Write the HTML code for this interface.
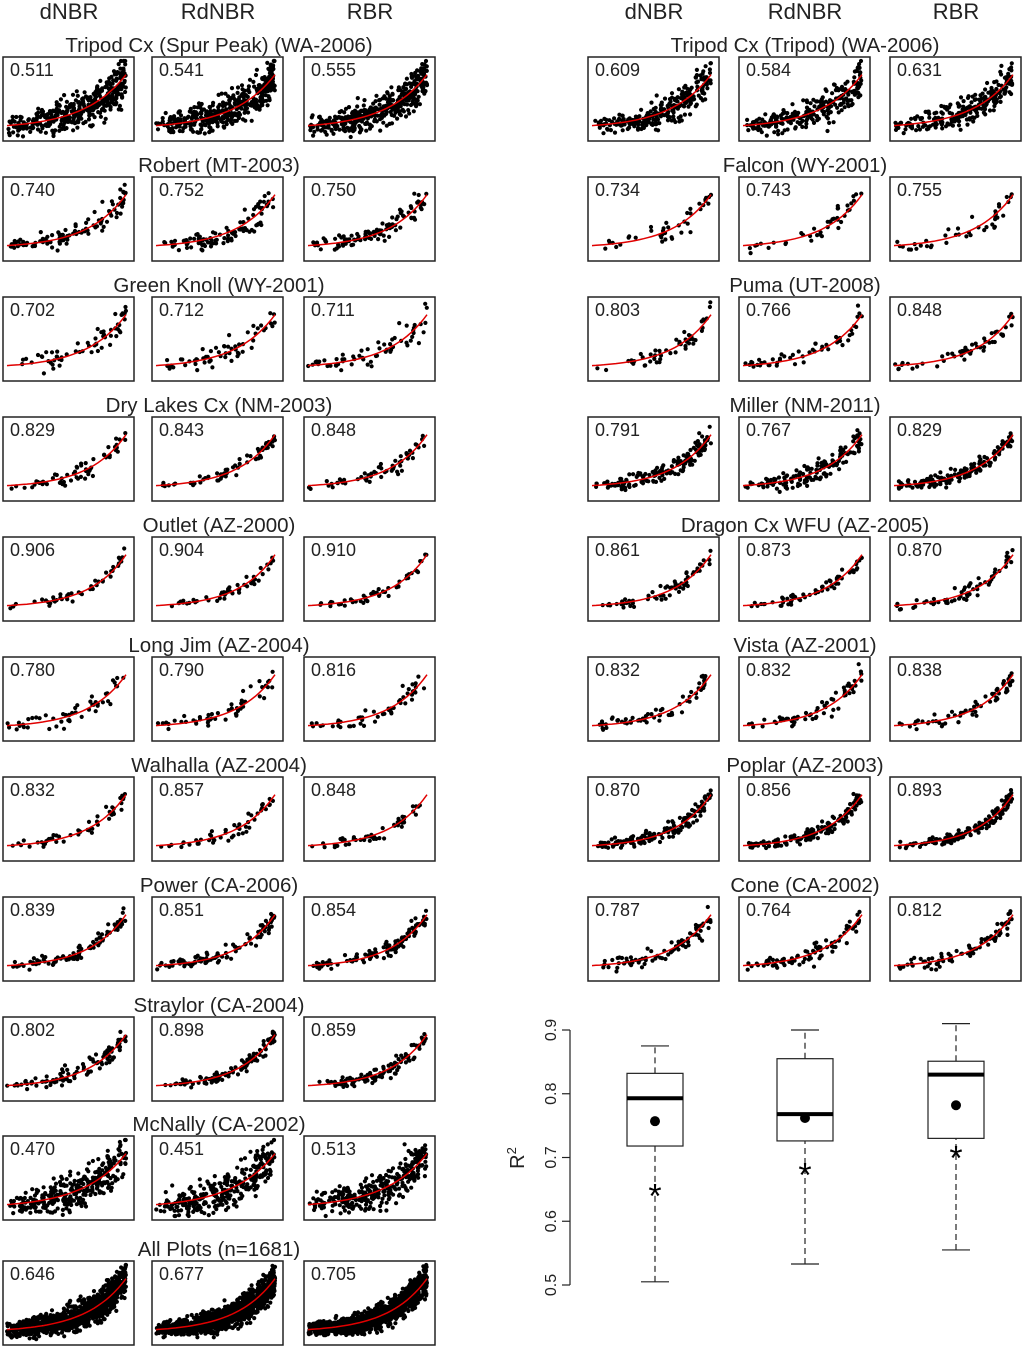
<!DOCTYPE html>
<html><head><meta charset="utf-8">
<style>
body{margin:0;background:#fff;}
svg{display:block;font-family:"Liberation Sans",Arial,sans-serif;}
</style></head>
<body>
<svg id="fig" width="1024" height="1348" viewBox="0 0 1024 1348"></svg>
<script>
// ---- data ----
const leftSites = ["Tripod Cx (Spur Peak) (WA-2006)","Robert (MT-2003)","Green Knoll (WY-2001)","Dry Lakes Cx (NM-2003)","Outlet (AZ-2000)","Long Jim (AZ-2004)","Walhalla (AZ-2004)","Power (CA-2006)","Straylor (CA-2004)","McNally (CA-2002)","All Plots (n=1681)"];
const leftR2 = [["0.511","0.541","0.555"],["0.740","0.752","0.750"],["0.702","0.712","0.711"],["0.829","0.843","0.848"],["0.906","0.904","0.910"],["0.780","0.790","0.816"],["0.832","0.857","0.848"],["0.839","0.851","0.854"],["0.802","0.898","0.859"],["0.470","0.451","0.513"],["0.646","0.677","0.705"]];
const leftN = [400,100,60,60,50,50,50,100,100,300,1100];
const rightSites = ["Tripod Cx (Tripod) (WA-2006)","Falcon (WY-2001)","Puma (UT-2008)","Miller (NM-2011)","Dragon Cx WFU (AZ-2005)","Vista (AZ-2001)","Poplar (AZ-2003)","Cone (CA-2002)"];
const rightR2 = [["0.609","0.584","0.631"],["0.734","0.743","0.755"],["0.803","0.766","0.848"],["0.791","0.767","0.829"],["0.861","0.873","0.870"],["0.832","0.832","0.838"],["0.870","0.856","0.893"],["0.787","0.764","0.812"]];
const rightN = [250,40,50,150,60,60,150,80];
const indices = ["dNBR","RdNBR","RBR"];
// boxplot stats: [whiskerLow, Q1, median, Q3, whiskerHigh, mean, star]
const boxStats = [[0.505,0.718,0.793,0.832,0.875,0.757,0.645],[0.533,0.726,0.768,0.855,0.900,0.762,0.678],[0.555,0.730,0.830,0.851,0.910,0.782,0.705]];
const yTicks = [0.5,0.6,0.7,0.8,0.9];

const NS="http://www.w3.org/2000/svg";
const svg=document.getElementById('fig');
function el(tag,attrs,parent){const e=document.createElementNS(NS,tag);for(const k in attrs)e.setAttribute(k,attrs[k]);(parent||svg).appendChild(e);return e;}
let seed=12345;function rnd(){seed=(seed*1103515245+12345)%2147483648;return seed/2147483648;}
function gauss(){return (rnd()+rnd()+rnd()+rnd()-2)*0.9;}

const leftCols=[3,152,304], rightCols=[588,739,890];
[leftCols,rightCols].forEach((cols,ci)=>cols.forEach((x,i)=>{
  const t=el('text',{x:x+66,y:19,'text-anchor':'middle','font-size':22,fill:'#222'});
  t.textContent=indices[i];
  
  
}));

function panel(x,y,w,h,r2,n,name){
  const g=el('g',{});
  
  
  const r=parseFloat(r2);
  const noise=(1-r)*0.32+0.03;
  const k=2.2+r*1.2;
  const y0=0.15, y1=0.82;
  const f=t=>y0+(y1-y0)*(Math.exp(k*t)-1)/(Math.exp(k)-1);
  const sx=t=>x+4+t*(w-12), sy=v=>y+h-4-v*(h-8);
  for(let i=0;i<n;i++){
    let t=Math.pow(rnd(),0.7);
    let v=f(t)+gauss()*noise*(0.6+t);
    v=Math.max(0,Math.min(1,v));
    el('circle',{cx:sx(t).toFixed(1),cy:sy(v).toFixed(1),r:2.1,fill:'#000'},g);
  }
  let d='';for(let i=0;i<=30;i++){const t=i/30;d+=(i?'L':'M')+sx(t).toFixed(1)+','+sy(f(t)).toFixed(1);}
  el('path',{d:d,stroke:'#e00000','stroke-width':1.5,fill:'none'},g);
  el('rect',{x:x,y:y,width:w,height:h,fill:'none',stroke:'#222','stroke-width':1.5},g);
  const t=el('text',{x:x+7,y:y+19,'font-size':18,fill:'#222'},g);t.textContent=r2;
}
const rowY=[57,177,297,417,537,657,777,897,1017,1136,1261];
leftSites.forEach((s,i)=>{
  const t=el('text',{x:219,y:rowY[i]-5,'text-anchor':'middle','font-size':20.5,fill:'#222'});t.textContent=s;
  
  leftCols.forEach((x,j)=>panel(x,rowY[i],131,84,leftR2[i][j],leftN[i],'left-panel-'+i+'-'+indices[j].toLowerCase()));
});
rightSites.forEach((s,i)=>{
  const t=el('text',{x:805,y:rowY[i]-5,'text-anchor':'middle','font-size':20.5,fill:'#222'});t.textContent=s;
  
  rightCols.forEach((x,j)=>panel(x,rowY[i],131,84,rightR2[i][j],rightN[i],'right-panel-'+i+'-'+indices[j].toLowerCase()));
});

const by=v=>1285-(v-0.5)*637.5;
const bx=[655,805,956];
const axis=el('g',{});
el('line',{x1:570,x2:570,y1:by(0.9),y2:by(0.5),stroke:'#222','stroke-width':1.2},axis);
yTicks.forEach(v=>{
  el('line',{x1:562,x2:570,y1:by(v),y2:by(v),stroke:'#222','stroke-width':1.2},axis);
  const t=el('text',{x:0,y:0,'text-anchor':'middle','font-size':16,fill:'#222',transform:`translate(556,${by(v)}) rotate(-90)`},axis);
  t.textContent=v.toFixed(1);
});
const yl=el('text',{x:0,y:0,'text-anchor':'middle','font-size':20,fill:'#222',transform:'translate(524,1158) rotate(-90)'});
yl.innerHTML='R<tspan dy="-8" font-size="13">2</tspan>';

boxStats.forEach((s,i)=>{
  const g=el('g',{});
  const c=bx[i];
  el('line',{x1:c,x2:c,y1:by(s[0]),y2:by(s[1]),stroke:'#222','stroke-dasharray':'6,4','stroke-width':1.2},g);
  el('line',{x1:c,x2:c,y1:by(s[3]),y2:by(s[4]),stroke:'#222','stroke-dasharray':'6,4','stroke-width':1.2},g);
  el('line',{x1:c-14,x2:c+14,y1:by(s[0]),y2:by(s[0]),stroke:'#222','stroke-width':1.2},g);
  el('line',{x1:c-14,x2:c+14,y1:by(s[4]),y2:by(s[4]),stroke:'#222','stroke-width':1.2},g);
  el('rect',{x:c-28,y:by(s[3]),width:56,height:by(s[1])-by(s[3]),fill:'#fff',stroke:'#222','stroke-width':1.2},g);
  el('line',{x1:c-28,x2:c+28,y1:by(s[2]),y2:by(s[2]),stroke:'#000','stroke-width':4},g);
  el('circle',{cx:c,cy:by(s[5]),r:5,fill:'#000'},g);
  const st=el('text',{x:c,y:by(s[6])+15,'text-anchor':'middle','font-size':34,fill:'#000'},g);st.textContent='*';
});
</script>
</body></html>
